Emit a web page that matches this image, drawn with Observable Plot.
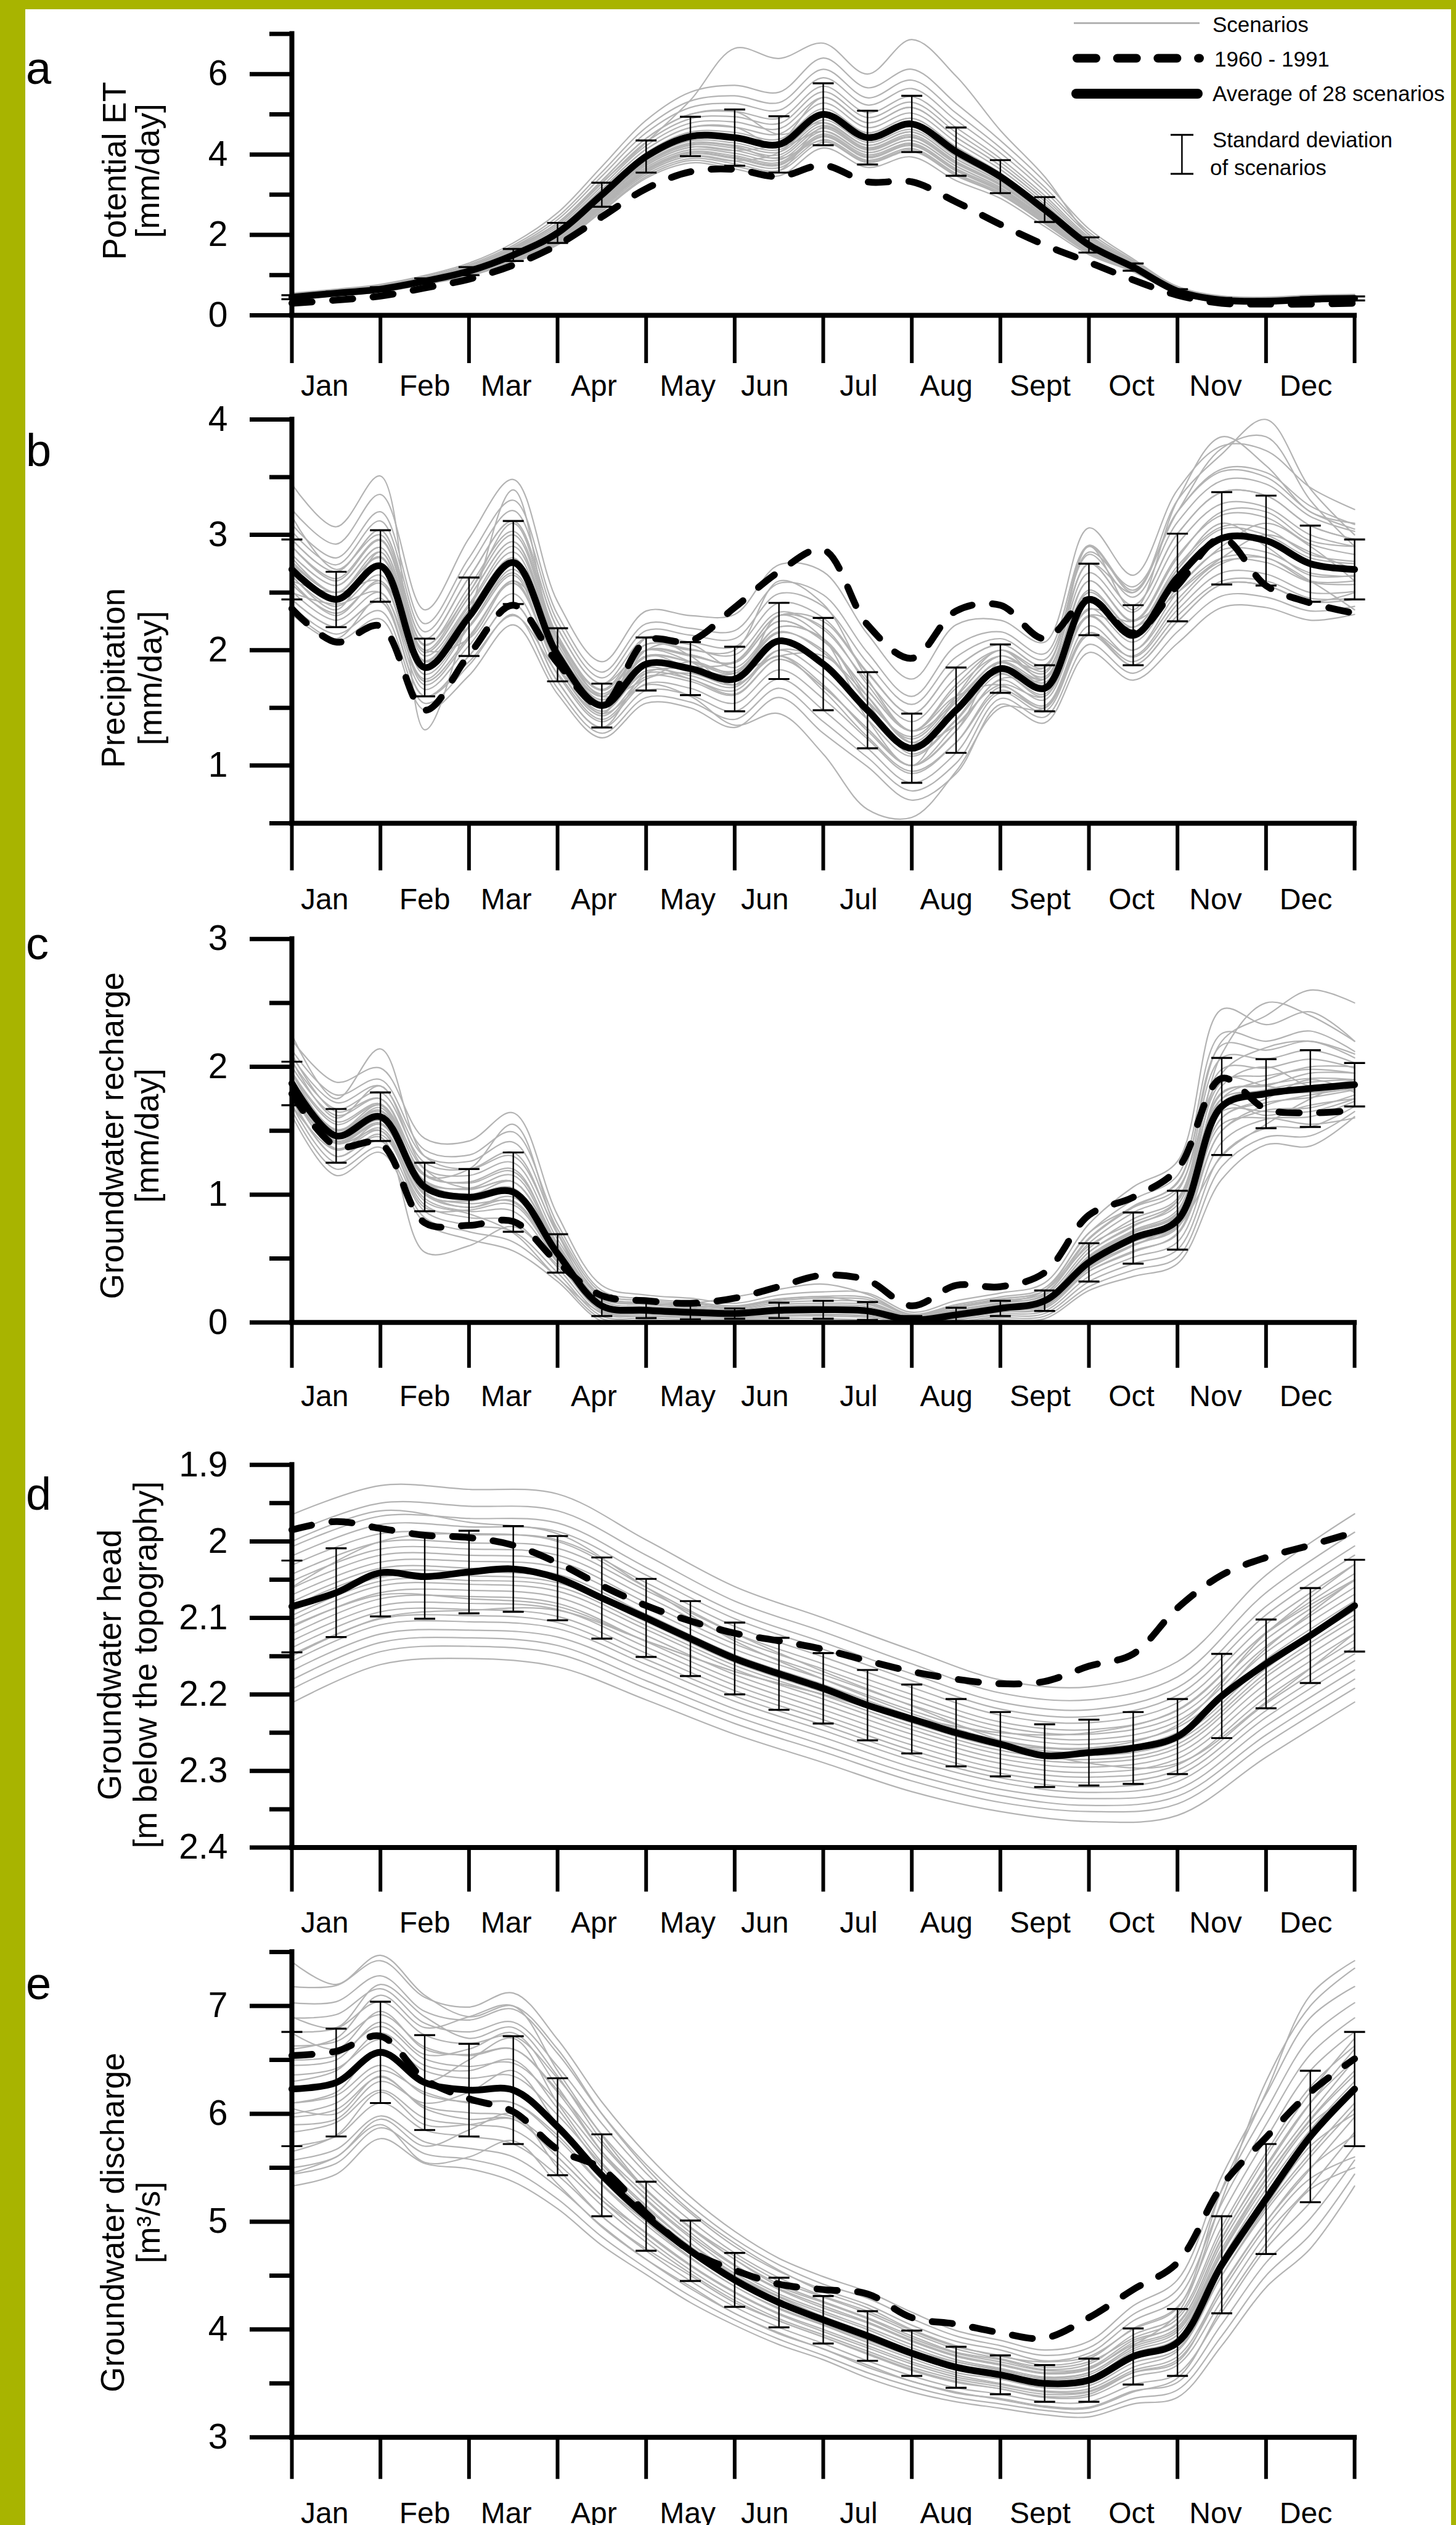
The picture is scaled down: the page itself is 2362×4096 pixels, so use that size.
<!DOCTYPE html>
<html><head><meta charset="utf-8">
<script src="https://cdn.jsdelivr.net/npm/d3@7"></script>
<script src="https://cdn.jsdelivr.net/npm/@observablehq/plot@0.6"></script>
<style>
html,body{margin:0;padding:0;}
body{width:2362px;height:4096px;background:#a8b400;position:relative;overflow:hidden;font-family:"Liberation Sans",Arial,Helvetica,sans-serif;}
#paper{position:absolute;left:41px;top:15px;width:2313px;height:4081px;background:#fff;}
.band{position:absolute;left:0;width:2362px;}
#legend{position:absolute;left:0;top:0;}
</style></head>
<body>
<div id="paper"></div>
<div id="band-a" class="band" style="top:0px"></div>
<div id="band-b" class="band" style="top:600px"></div>
<div id="band-c" class="band" style="top:1450px"></div>
<div id="band-d" class="band" style="top:2300px"></div>
<div id="band-e" class="band" style="top:3090px"></div>
<svg id="legend" width="2362" height="320" font-family="Liberation Sans, Arial, sans-serif" font-size="35">
  <line x1="1742" y1="37.6" x2="1946" y2="37.6" stroke="#b3b3b3" stroke-width="3"/>
  <text x="1967" y="52">Scenarios</text>
  <line x1="1747" y1="94.5" x2="1946" y2="94.5" stroke="#000" stroke-width="14" stroke-linecap="round" stroke-dasharray="31 34.7"/>
  <text x="1970" y="108">1960 - 1991</text>
  <line x1="1746" y1="152" x2="1943" y2="152" stroke="#000" stroke-width="16" stroke-linecap="round"/>
  <text x="1967" y="164">Average of 28 scenarios</text>
  <line x1="1917.4" y1="218.7" x2="1917.4" y2="282" stroke="#000" stroke-width="2.5"/>
  <line x1="1899" y1="218.7" x2="1936" y2="218.7" stroke="#000" stroke-width="3"/>
  <line x1="1899" y1="282" x2="1936" y2="282" stroke="#000" stroke-width="3"/>
  <text x="1967" y="239">Standard deviation</text>
  <text x="1963" y="284">of scenarios</text>
</svg>
<script>
// ---------- shared axis values ----------
const monthLabels = ["Jan","Feb","Mar","Apr","May","Jun","Jul","Aug","Sept","Oct","Nov","Dec"];
const monthEdges = [0,1,2,3,4,5,6,7,8,9,10,11,12];
const labelPositions = [0.37,1.5,2.42,3.41,4.47,5.34,6.4,7.39,8.45,9.48,10.43,11.45];
const halfMonths = [0,0.5,1,1.5,2,2.5,3,3.5,4,4.5,5,5.5,6,6.5,7,7.5,8,8.5,9,9.5,10,10.5,11,11.5,12];
const fullMonths = [0,1,2,3,4,5,6,7,8,9,10,11,12];

// ---------- a: Potential ET ----------
const petMean = [0.45,0.55,0.65,0.85,1.1,1.5,2.05,3.0,3.95,4.45,4.42,4.25,5.0,4.42,4.76,4.07,3.45,2.63,1.75,1.2,0.6,0.38,0.35,0.4,0.42];
const petBase = [0.3,0.38,0.48,0.68,0.9,1.25,1.75,2.45,3.15,3.57,3.63,3.45,3.73,3.32,3.32,2.82,2.26,1.75,1.32,0.88,0.5,0.3,0.28,0.28,0.3];
const petSd = [0.05,0.04,0.05,0.07,0.1,0.15,0.25,0.3,0.4,0.49,0.7,0.7,0.77,0.67,0.7,0.6,0.41,0.31,0.19,0.09,0.05,0.05,0.05,0.05,0.05];
const petScen = [
[.39,.49,.58,.77,.98,1.32,1.75,2.58,3.41,3.79,3.64,3.47,4.16,3.68,3.94,3.35,2.91,2.21,1.51,1.08,.53,.32,.29,.34,.36],
[.4,.5,.59,.78,1.0,1.35,1.8,2.65,3.5,3.9,3.77,3.6,4.3,3.8,4.08,3.47,3.0,2.28,1.55,1.1,.54,.33,.3,.35,.37],
[.41,.51,.6,.79,1.01,1.37,1.83,2.69,3.55,3.96,3.84,3.67,4.37,3.86,4.15,3.53,3.05,2.32,1.57,1.11,.55,.34,.31,.36,.38],
[.41,.51,.6,.79,1.02,1.38,1.85,2.72,3.59,4.01,3.9,3.73,4.44,3.92,4.22,3.59,3.09,2.35,1.59,1.12,.55,.34,.31,.36,.38],
[.42,.52,.61,.8,1.03,1.4,1.88,2.76,3.64,4.07,3.97,3.8,4.51,3.99,4.28,3.65,3.14,2.39,1.61,1.13,.56,.35,.32,.37,.39],
[.42,.52,.61,.81,1.04,1.41,1.9,2.79,3.68,4.12,4.03,3.86,4.58,4.05,4.35,3.71,3.18,2.42,1.63,1.14,.56,.35,.32,.37,.39],
[.43,.53,.62,.82,1.05,1.43,1.93,2.83,3.73,4.18,4.1,3.93,4.65,4.11,4.42,3.77,3.23,2.46,1.65,1.15,.57,.36,.33,.38,.4],
[.43,.53,.63,.82,1.06,1.44,1.95,2.86,3.77,4.23,4.16,3.99,4.72,4.17,4.49,3.83,3.27,2.49,1.67,1.16,.58,.36,.33,.38,.4],
[.44,.54,.63,.83,1.07,1.46,1.98,2.9,3.82,4.29,4.23,4.06,4.79,4.23,4.56,3.89,3.32,2.53,1.69,1.17,.58,.37,.34,.39,.41],
[.44,.54,.64,.84,1.08,1.47,2.0,2.93,3.86,4.34,4.29,4.12,4.86,4.3,4.62,3.95,3.36,2.56,1.71,1.18,.59,.37,.34,.39,.41],
[.45,.55,.64,.84,1.09,1.49,2.03,2.97,3.91,4.4,4.36,4.19,4.93,4.36,4.69,4.01,3.41,2.6,1.73,1.19,.59,.38,.35,.4,.42],
[.45,.55,.65,.85,1.1,1.5,2.05,3.0,3.95,4.45,4.42,4.25,5.0,4.42,4.76,4.07,3.45,2.63,1.75,1.2,.6,.38,.35,.4,.42],
[.46,.56,.66,.86,1.12,1.53,2.1,3.07,4.04,4.56,4.55,4.38,5.14,4.54,4.9,4.19,3.54,2.7,1.79,1.22,.61,.39,.36,.41,.43],
[.47,.57,.67,.88,1.14,1.56,2.15,3.14,4.13,4.67,4.68,4.51,5.28,4.67,5.03,4.31,3.63,2.77,1.83,1.24,.62,.4,.37,.42,.44],
[.48,.58,.69,.89,1.16,1.59,2.2,3.21,4.22,4.78,4.81,4.64,5.42,4.79,5.17,4.43,3.72,2.84,1.87,1.26,.64,.41,.38,.43,.45],
[.49,.59,.7,.91,1.18,1.62,2.25,3.28,4.31,4.89,4.94,4.77,5.56,4.92,5.3,4.55,3.81,2.91,1.91,1.28,.65,.42,.39,.44,.46],
[.5,.6,.71,.92,1.2,1.65,2.3,3.35,4.4,5.0,5.07,4.9,5.7,5.04,5.44,4.67,3.9,2.98,1.95,1.3,.66,.43,.4,.45,.47],
[.52,.62,.73,.94,1.23,1.7,2.38,3.46,4.54,5.17,5.27,5.1,5.91,5.23,5.64,4.85,4.04,3.09,2.01,1.33,.68,.45,.42,.47,.49],
[.53,.63,.75,.96,1.26,1.74,2.45,3.56,4.67,5.33,5.46,5.29,6.12,5.41,5.85,5.03,4.17,3.19,2.07,1.36,.7,.46,.43,.48,.5],
[.55,.65,.77,.99,1.3,1.8,2.55,3.7,4.85,5.55,5.72,5.55,6.4,5.66,6.12,5.27,4.35,3.33,2.15,1.4,.72,.48,.45,.5,.52],
[.5,.6,.72,.93,1.22,1.68,2.3,3.3,4.3,5.35,6.64,6.39,6.77,6.0,6.86,5.95,4.6,3.45,2.0,1.3,.66,.44,.41,.46,.48],
[.41,.51,.6,.79,1.01,1.37,1.83,2.69,3.55,3.96,3.84,4.05,5.0,4.54,4.9,4.19,3.54,2.7,1.79,1.22,.61,.39,.36,.41,.43],
[.47,.57,.67,.88,1.14,1.56,2.15,3.14,4.13,4.67,4.68,4.2,4.58,4.05,4.35,3.71,3.18,2.42,1.63,1.14,.56,.35,.32,.37,.39],
[.43,.53,.62,.82,1.05,1.43,1.93,2.83,3.73,4.18,4.1,4.3,5.42,4.79,5.17,4.43,3.72,2.84,1.87,1.26,.64,.41,.38,.43,.45],
[.5,.6,.71,.92,1.2,1.65,2.3,3.35,4.4,5.0,5.07,4.5,4.79,4.23,4.56,3.89,3.32,2.53,1.69,1.17,.58,.37,.34,.39,.41],
[.41,.51,.6,.8,1.02,1.39,1.86,2.74,3.61,4.04,3.93,3.76,4.47,3.95,4.25,3.62,3.11,2.37,1.6,1.12,.55,.34,.31,.36,.38],
[.39,.49,.58,.77,.99,1.33,1.77,2.61,3.45,3.85,3.7,3.6,4.68,4.14,4.45,3.8,3.25,2.47,1.66,1.15,.57,.36,.33,.38,.4],
[.43,.53,.63,.82,1.06,1.45,1.96,2.88,3.8,4.26,4.2,3.9,4.34,3.83,4.11,3.5,3.02,2.3,1.56,1.1,.54,.34,.31,.36,.38]
];

// ---------- b: Precipitation ----------
const precipMean = [2.70,2.44,2.73,1.85,2.29,2.76,1.96,1.52,1.88,1.84,1.75,2.08,1.88,1.48,1.15,1.48,1.84,1.67,2.44,2.13,2.63,2.97,2.95,2.75,2.70];
const precipBase = [2.36,2.07,2.21,1.48,1.96,2.39,1.89,1.52,2.08,2.08,2.37,2.68,2.87,2.22,1.93,2.34,2.39,2.1,2.44,2.15,2.56,2.97,2.56,2.41,2.32];
const precipSd = [0.26,0.24,0.31,0.25,0.34,0.36,0.23,0.19,0.23,0.23,0.28,0.33,0.40,0.33,0.30,0.37,0.21,0.20,0.31,0.26,0.38,0.40,0.39,0.33,0.26];
const precipScen = [
[3.22,2.92,3.35,2.35,2.97,3.48,2.42,1.90,2.34,2.30,2.31,2.74,2.68,2.14,1.75,2.22,2.26,2.07,3.06,2.65,3.39,3.77,3.73,3.41,3.22],
[3.09,2.80,3.20,2.23,2.80,3.30,2.31,1.81,2.23,2.19,2.17,2.58,2.48,1.98,1.6,2.04,2.16,1.97,2.91,2.52,3.2,3.57,3.54,3.25,3.09],
[3.03,2.74,3.12,2.16,2.72,3.21,2.25,1.76,2.17,2.13,2.1,2.49,2.38,1.89,1.53,1.94,2.1,1.92,2.83,2.46,3.11,3.47,3.44,3.16,3.03],
[2.96,2.68,3.04,2.10,2.63,3.12,2.19,1.71,2.11,2.07,2.03,2.41,2.28,1.81,1.45,1.85,2.05,1.87,2.75,2.39,3.01,3.37,3.34,3.08,2.96],
[2.9,2.62,2.96,2.04,2.55,3.03,2.13,1.66,2.05,2.01,1.96,2.33,2.18,1.73,1.38,1.76,2.0,1.82,2.67,2.33,2.92,3.27,3.24,3.0,2.9],
[2.83,2.56,2.89,1.98,2.46,2.94,2.08,1.62,2.0,1.96,1.89,2.25,2.08,1.65,1.3,1.67,1.95,1.77,2.6,2.26,2.82,3.17,3.15,2.92,2.83],
[2.77,2.50,2.81,1.91,2.38,2.85,2.02,1.57,1.94,1.90,1.82,2.16,1.98,1.56,1.23,1.57,1.89,1.72,2.52,2.2,2.73,3.07,3.05,2.83,2.77],
[2.70,2.44,2.73,1.85,2.29,2.76,1.96,1.52,1.88,1.84,1.75,2.08,1.88,1.48,1.15,1.48,1.84,1.67,2.44,2.13,2.63,2.97,2.95,2.75,2.70],
[2.64,2.38,2.65,1.79,2.21,2.67,1.90,1.47,1.82,1.78,1.68,2.0,1.78,1.40,1.08,1.39,1.79,1.62,2.36,2.07,2.54,2.87,2.85,2.67,2.64],
[2.57,2.32,2.58,1.73,2.12,2.58,1.85,1.43,1.77,1.73,1.61,1.92,1.68,1.32,1.0,1.3,1.74,1.57,2.29,2.0,2.44,2.77,2.76,2.59,2.57],
[2.51,2.26,2.5,1.66,2.04,2.49,1.79,1.38,1.71,1.67,1.54,1.83,1.58,1.23,0.93,1.2,1.68,1.52,2.21,1.94,2.35,2.67,2.66,2.5,2.51],
[2.44,2.20,2.42,1.60,1.95,2.40,1.73,1.33,1.65,1.61,1.47,1.75,1.48,1.15,0.85,1.11,1.63,1.47,2.13,1.87,2.25,2.57,2.56,2.42,2.44],
[2.38,2.14,2.34,1.54,1.87,2.31,1.67,1.28,1.59,1.55,1.4,1.67,1.38,1.07,0.78,1.02,1.58,1.42,2.05,1.8,2.16,2.47,2.46,2.34,2.38],
[2.31,2.08,2.27,1.48,1.78,2.22,1.62,1.24,1.54,1.50,1.33,1.59,1.28,0.99,0.7,0.93,1.53,1.37,1.98,1.74,2.06,2.37,2.37,2.26,2.31],
[3.44,3.07,3.51,1.31,2.3,3.39,2.0,1.45,2.1,1.95,1.7,2.3,2.1,1.4,1.0,1.6,2.0,1.75,2.9,2.35,3.3,3.85,3.6,3.2,3.1],
[2.6,2.3,2.6,1.7,2.1,2.6,1.85,1.45,1.7,1.6,1.35,1.45,1.1,0.62,0.55,0.95,1.5,1.5,2.15,1.95,2.4,2.75,2.8,2.6,2.6],
[2.8,2.5,2.85,1.95,2.4,2.9,2.05,1.6,1.95,1.9,1.8,2.15,2.0,1.55,1.25,1.6,1.95,1.8,2.75,2.5,3.3,3.7,4.0,3.4,3.0],
[2.9,2.6,2.95,2.0,2.5,3.0,2.1,1.65,2.0,1.95,1.9,2.3,2.2,1.7,1.3,1.7,2.0,1.85,2.85,2.55,3.2,3.75,3.85,3.3,2.9],
[2.75,2.5,2.8,1.9,2.35,2.8,2.0,1.6,2.05,2.0,2.0,2.6,2.4,1.75,1.3,1.55,1.9,1.75,2.5,2.2,2.7,3.05,3.0,2.8,2.75],
[2.96,2.68,3.04,2.10,2.63,3.12,2.19,1.71,2.0,1.9,1.7,1.95,1.65,1.25,0.95,1.2,1.65,1.5,2.15,1.9,2.3,2.6,2.6,2.45,2.45],
[2.44,2.20,2.42,1.60,1.95,2.40,1.73,1.33,1.8,1.85,1.9,2.3,2.25,1.8,1.45,1.85,2.05,1.87,2.75,2.39,3.01,3.37,3.34,3.08,2.96],
[2.83,2.56,2.89,1.98,2.46,2.94,2.0,1.5,1.8,1.75,1.62,1.92,1.68,1.32,1.0,1.3,1.9,1.85,2.9,2.5,3.2,3.55,3.5,3.2,3.05],
[2.57,2.32,2.58,1.73,2.12,2.58,1.9,1.55,2.0,1.96,1.89,2.25,2.08,1.65,1.3,1.6,1.7,1.5,2.15,1.87,2.25,2.57,2.56,2.42,2.5],
[2.6,2.5,2.6,2.0,2.1,2.6,2.1,1.6,1.75,1.9,1.8,1.95,1.95,1.6,1.2,1.35,1.75,1.75,2.3,2.2,2.5,2.8,3.0,2.85,2.7],
[2.35,2.1,2.45,1.6,1.9,2.3,1.8,1.4,1.75,1.8,1.7,1.95,1.7,1.3,1.0,1.35,1.7,1.6,2.3,2.0,2.5,2.8,2.8,2.6,2.35],
[3.16,2.7,3.0,2.05,2.5,3.1,2.1,1.55,1.95,1.85,1.8,2.2,2.1,1.6,1.2,1.55,1.9,1.7,2.6,2.25,2.8,3.2,3.2,2.95,2.9],
[2.5,2.4,2.5,1.75,2.2,2.7,1.95,1.45,2.0,2.05,1.85,2.2,2.1,1.55,1.1,1.4,1.85,1.75,2.35,2.25,2.55,2.9,3.1,2.9,2.6],
[2.65,2.35,2.85,1.9,2.2,2.65,1.85,1.55,1.85,1.75,1.65,2.0,1.9,1.45,1.15,1.5,1.8,1.6,2.45,2.1,2.7,3.1,2.9,2.65,2.65]
];

// ---------- c: Groundwater recharge ----------
const rechargeMean = [1.87,1.46,1.61,1.06,0.98,1.02,0.54,0.13,0.095,0.08,0.07,0.095,0.10,0.09,0.02,0.06,0.11,0.17,0.47,0.66,0.80,1.69,1.79,1.83,1.86];
const rechargeBase = [1.79,1.38,1.40,0.78,0.76,0.79,0.47,0.21,0.17,0.15,0.19,0.28,0.37,0.33,0.13,0.29,0.28,0.39,0.84,0.98,1.20,1.91,1.67,1.64,1.66];
const rechargeSd = [0.17,0.21,0.19,0.19,0.22,0.31,0.15,0.08,0.06,0.055,0.04,0.06,0.07,0.07,0.03,0.055,0.06,0.08,0.15,0.20,0.23,0.38,0.27,0.30,0.17];
const rechargeScen = [
[2.04,1.67,1.80,1.25,1.20,1.33,0.69,0.21,0.155,0.135,0.11,0.155,0.17,0.16,0.05,0.115,0.17,0.23,0.62,0.86,1.03,2.07,2.06,2.13,2.03],
[1.70,1.25,1.42,0.87,0.76,0.71,0.39,0.05,0.035,0.025,0.03,0.035,0.03,0.02,0,0.005,0.05,0.07,0.32,0.46,0.57,1.31,1.52,1.53,1.69],
[1.96,1.57,1.71,1.16,1.09,1.18,0.62,0.17,0.125,0.11,0.09,0.125,0.135,0.125,0.035,0.09,0.14,0.19,0.55,0.76,0.92,1.88,1.93,1.98,1.95],
[1.79,1.36,1.52,0.97,0.87,0.87,0.47,0.09,0.065,0.05,0.05,0.065,0.065,0.055,0.005,0.03,0.08,0.11,0.40,0.56,0.69,1.50,1.66,1.68,1.78],
[2.13,1.78,1.90,1.35,1.31,1.49,0.77,0.25,0.185,0.16,0.13,0.185,0.205,0.195,0.065,0.14,0.2,0.27,0.70,0.96,1.15,2.26,2.2,2.28,2.12],
[1.62,1.15,1.33,0.78,0.65,0.56,0.32,0.01,0.005,0,0.01,0.005,0,0,0,0,0.02,0.03,0.25,0.36,0.46,1.12,1.39,1.38,1.61],
[2.21,1.88,1.99,1.44,1.42,1.64,0.84,0.29,0.215,0.19,0.15,0.215,0.24,0.23,0.08,0.17,0.23,0.31,0.77,1.06,1.26,2.45,2.33,2.43,2.2],
[1.91,1.51,1.66,1.11,1.04,1.10,0.58,0.15,0.11,0.095,0.08,0.11,0.12,0.11,0.03,0.075,0.125,0.17,0.51,0.71,0.86,1.79,1.86,1.91,1.9],
[1.83,1.41,1.56,1.01,0.93,0.94,0.50,0.11,0.08,0.065,0.06,0.08,0.085,0.07,0.01,0.045,0.095,0.13,0.43,0.61,0.74,1.6,1.72,1.76,1.82],
[2.0,1.62,1.75,1.2,1.15,1.25,0.65,0.19,0.14,0.12,0.1,0.14,0.15,0.14,0.04,0.1,0.155,0.21,0.58,0.81,0.97,1.98,1.99,2.06,1.99],
[1.74,1.3,1.47,0.92,0.82,0.79,0.43,0.07,0.05,0.04,0.04,0.05,0.05,0.04,0,0.02,0.065,0.09,0.36,0.51,0.63,1.41,1.59,1.61,1.73],
[2.08,1.72,1.85,1.3,1.26,1.41,0.73,0.23,0.17,0.15,0.12,0.17,0.19,0.18,0.06,0.13,0.185,0.25,0.66,0.91,1.09,2.17,2.13,2.2,2.07],
[1.66,1.2,1.37,0.82,0.71,0.63,0.35,0.03,0.02,0.01,0.02,0.02,0.01,0,0,0,0.035,0.05,0.28,0.41,0.51,1.22,1.45,1.46,1.65],
[2.25,1.75,2.14,1.3,1.2,1.3,0.7,0.2,0.15,0.13,0.12,0.18,0.2,0.15,0.05,0.1,0.15,0.22,0.65,0.9,1.1,2.2,2.4,2.6,2.5],
[1.75,1.3,1.45,0.55,0.6,0.75,0.45,0.12,0.08,0.06,0.05,0.07,0.08,0.07,0.02,0.05,0.1,0.13,0.4,0.55,0.7,1.55,1.6,1.55,1.6],
[1.85,1.45,1.6,1.0,0.95,1.0,0.55,0.18,0.15,0.15,0.2,0.26,0.3,0.22,0.06,0.12,0.18,0.25,0.6,0.78,0.95,1.75,1.8,1.8,1.85],
[1.95,1.55,1.7,1.1,1.05,1.15,0.6,0.15,0.1,0.09,0.08,0.1,0.11,0.1,0.03,0.07,0.12,0.17,0.55,0.75,0.95,2.1,2.5,2.4,2.2],
[1.8,1.4,1.55,1.05,1.0,1.05,0.55,0.12,0.09,0.08,0.07,0.09,0.1,0.09,0.02,0.06,0.1,0.14,0.42,0.6,0.75,1.3,1.55,1.75,1.9],
[1.9,1.5,1.65,1.15,1.2,1.55,0.7,0.15,0.1,0.08,0.07,0.09,0.1,0.09,0.02,0.06,0.1,0.15,0.5,0.7,0.85,1.8,1.85,1.95,1.95],
[1.8,1.35,1.5,0.95,0.85,0.7,0.35,0.08,0.05,0.04,0.04,0.05,0.06,0.05,0.01,0.04,0.08,0.12,0.45,0.6,0.8,1.65,1.65,1.65,1.75],
[1.85,1.45,1.6,1.05,0.97,1.0,0.52,0.12,0.09,0.08,0.07,0.09,0.1,0.09,0.02,0.07,0.15,0.25,0.7,0.9,1.05,1.9,1.85,1.8,1.85],
[2.05,1.6,1.85,1.2,1.05,1.1,0.6,0.14,0.1,0.09,0.08,0.1,0.11,0.1,0.03,0.06,0.12,0.16,0.5,0.66,0.82,1.75,1.9,2.0,2.0],
[1.7,1.35,1.55,1.0,0.9,0.95,0.5,0.1,0.08,0.07,0.06,0.08,0.09,0.08,0.01,0.05,0.1,0.14,0.48,0.65,0.78,1.6,1.75,1.9,1.8],
[1.95,1.5,1.7,1.1,1.0,1.1,0.58,0.13,0.1,0.08,0.07,0.09,0.1,0.09,0.02,0.06,0.11,0.15,0.46,0.64,0.78,1.85,2.0,1.85,1.9],
[1.88,1.42,1.58,1.02,0.9,0.98,0.5,0.1,0.07,0.06,0.05,0.07,0.08,0.07,0.01,0.05,0.1,0.13,0.44,0.63,0.76,1.5,1.7,1.78,1.83],
[2.1,1.65,1.75,1.15,1.1,1.2,0.6,0.14,0.1,0.09,0.08,0.1,0.11,0.1,0.03,0.07,0.12,0.17,0.52,0.72,0.88,1.95,2.15,2.2,2.1],
[1.78,1.4,1.5,0.9,0.88,0.92,0.48,0.11,0.08,0.07,0.06,0.08,0.09,0.08,0.02,0.05,0.11,0.16,0.5,0.7,0.84,1.7,1.62,1.7,1.75],
[1.92,1.48,1.68,1.08,1.0,1.05,0.56,0.13,0.1,0.08,0.07,0.09,0.1,0.09,0.02,0.06,0.11,0.15,0.48,0.67,0.82,1.72,1.82,1.88,1.9]
];

// ---------- d: Groundwater head (scenarios given monthly) ----------
const headMean = [2.085,2.067,2.041,2.046,2.04,2.036,2.048,2.074,2.10,2.127,2.153,2.173,2.192,2.214,2.232,2.25,2.265,2.28,2.276,2.27,2.255,2.202,2.16,2.123,2.084];
const headBase = [1.985,1.974,1.983,1.992,1.995,2.005,2.028,2.058,2.084,2.104,2.12,2.13,2.141,2.156,2.17,2.18,2.186,2.183,2.163,2.147,2.087,2.044,2.021,2.005,1.988];
const headSd = [0.06,0.058,0.057,0.055,0.054,0.056,0.055,0.053,0.051,0.049,0.047,0.047,0.046,0.046,0.045,0.044,0.042,0.041,0.043,0.047,0.049,0.055,0.058,0.062,0.06];
const headScen = [
[1.965,1.927,1.932,1.938,1.998,2.059,2.1,2.142,2.181,2.19,2.157,2.044,1.964],
[1.989,1.95,1.954,1.96,2.018,2.078,2.118,2.16,2.198,2.207,2.177,2.067,1.988],
[2.007,1.967,1.97,1.976,2.034,2.092,2.132,2.173,2.21,2.22,2.191,2.085,2.006],
[2.019,1.978,1.981,1.987,2.044,2.101,2.141,2.182,2.219,2.229,2.201,2.096,2.018],
[2.031,1.99,1.991,1.998,2.054,2.111,2.151,2.191,2.227,2.237,2.211,2.108,2.03],
[2.043,2.001,2.002,2.009,2.064,2.12,2.16,2.2,2.236,2.246,2.221,2.119,2.042],
[2.052,2.01,2.01,2.018,2.072,2.127,2.167,2.207,2.242,2.252,2.228,2.128,2.051],
[2.061,2.018,2.018,2.026,2.08,2.134,2.174,2.214,2.248,2.259,2.235,2.137,2.06],
[2.07,2.027,2.026,2.034,2.087,2.141,2.18,2.221,2.254,2.265,2.243,2.145,2.069],
[2.079,2.035,2.035,2.043,2.095,2.148,2.187,2.228,2.261,2.272,2.25,2.154,2.078],
[2.085,2.041,2.04,2.048,2.10,2.153,2.192,2.232,2.265,2.276,2.255,2.16,2.084],
[2.091,2.047,2.045,2.054,2.105,2.158,2.197,2.237,2.269,2.28,2.26,2.166,2.09],
[2.097,2.052,2.051,2.059,2.11,2.162,2.201,2.241,2.273,2.285,2.265,2.172,2.096],
[2.103,2.058,2.056,2.065,2.115,2.167,2.206,2.246,2.278,2.289,2.27,2.177,2.102],
[2.112,2.067,2.064,2.073,2.123,2.174,2.213,2.252,2.284,2.295,2.277,2.186,2.111],
[2.121,2.075,2.072,2.081,2.131,2.181,2.22,2.259,2.29,2.302,2.284,2.195,2.12],
[2.13,2.084,2.081,2.089,2.138,2.188,2.227,2.266,2.297,2.308,2.292,2.204,2.129],
[2.139,2.092,2.089,2.098,2.146,2.195,2.233,2.273,2.303,2.315,2.299,2.212,2.138],
[2.148,2.101,2.097,2.106,2.154,2.202,2.24,2.279,2.309,2.321,2.306,2.221,2.147],
[2.157,2.109,2.105,2.114,2.161,2.209,2.247,2.286,2.315,2.328,2.314,2.23,2.156],
[2.169,2.121,2.116,2.125,2.171,2.219,2.256,2.295,2.324,2.336,2.324,2.241,2.168],
[2.181,2.132,2.126,2.136,2.182,2.228,2.266,2.304,2.332,2.345,2.333,2.253,2.18],
[2.193,2.144,2.137,2.147,2.192,2.238,2.275,2.313,2.341,2.353,2.343,2.264,2.192],
[2.211,2.161,2.153,2.164,2.207,2.252,2.289,2.327,2.353,2.366,2.358,2.282,2.21],
[2.0,1.96,1.975,1.99,2.06,2.13,2.18,2.225,2.26,2.27,2.24,2.12,2.03],
[2.15,2.1,2.09,2.09,2.13,2.17,2.2,2.235,2.265,2.27,2.25,2.14,2.05],
[2.06,2.0,1.99,2.0,2.06,2.12,2.17,2.215,2.26,2.29,2.29,2.21,2.12],
[2.11,2.07,2.075,2.085,2.13,2.17,2.2,2.23,2.25,2.25,2.22,2.12,2.05]
];

// ---------- e: Groundwater discharge ----------
const dischargeMean = [6.23,6.29,6.57,6.29,6.22,6.22,5.88,5.43,5.05,4.73,4.46,4.25,4.09,3.94,3.78,3.65,3.58,3.50,3.53,3.75,3.88,4.60,5.21,5.79,6.23];
const dischargeBase = [6.54,6.58,6.72,6.32,6.14,6.02,5.67,5.49,5.08,4.73,4.55,4.42,4.37,4.33,4.11,4.05,3.97,3.92,4.11,4.37,4.62,5.33,5.78,6.2,6.51];
const dischargeSd = [0.53,0.50,0.47,0.44,0.43,0.50,0.45,0.38,0.32,0.28,0.25,0.23,0.22,0.23,0.21,0.19,0.18,0.17,0.20,0.26,0.31,0.45,0.51,0.61,0.53];
const dischargeScen = [
[6.76,6.79,7.04,6.73,6.65,6.72,6.33,5.81,5.37,5.01,4.71,4.48,4.31,4.17,3.99,3.84,3.76,3.67,3.73,4.01,4.21,5.06,5.77,6.4,6.76],
[5.7,5.79,6.1,5.85,5.79,5.72,5.43,5.05,4.73,4.45,4.21,4.02,3.87,3.71,3.57,3.46,3.4,3.33,3.33,3.49,3.59,4.16,4.75,5.18,5.7],
[6.5,6.54,6.81,6.51,6.44,6.47,6.11,5.62,5.21,4.87,4.59,4.37,4.2,4.06,3.89,3.75,3.67,3.59,3.63,3.88,4.06,4.84,5.52,6.1,6.5],
[5.97,6.04,6.34,6.07,6.01,5.97,5.66,5.24,4.89,4.59,4.34,4.14,3.98,3.83,3.68,3.56,3.49,3.42,3.43,3.62,3.75,4.39,5.0,5.49,5.97],
[7.03,7.04,7.28,6.95,6.87,6.97,6.56,6.0,5.53,5.15,4.84,4.6,4.42,4.29,4.1,3.94,3.85,3.76,3.83,4.14,4.37,5.29,6.03,6.71,7.03],
[5.44,5.54,5.87,5.63,5.58,5.47,5.21,4.86,4.57,4.31,4.09,3.91,3.76,3.6,3.47,3.37,3.31,3.25,3.23,3.36,3.44,3.94,4.5,4.88,5.44],
[6.36,6.42,6.69,6.4,6.33,6.35,5.99,5.53,5.13,4.8,4.52,4.31,4.15,4.0,3.83,3.7,3.63,3.54,3.58,3.82,3.98,4.72,5.39,5.94,6.36],
[6.1,6.17,6.45,6.18,6.11,6.1,5.77,5.34,4.97,4.66,4.4,4.19,4.04,3.88,3.73,3.6,3.54,3.46,3.48,3.69,3.82,4.5,5.13,5.64,6.1],
[6.63,6.67,6.92,6.62,6.54,6.6,6.22,5.72,5.29,4.94,4.65,4.42,4.26,4.11,3.94,3.79,3.72,3.63,3.68,3.95,4.13,4.95,5.64,6.25,6.63],
[5.83,5.92,6.22,5.96,5.9,5.85,5.54,5.15,4.81,4.52,4.27,4.08,3.93,3.77,3.62,3.51,3.45,3.37,3.38,3.56,3.67,4.27,4.88,5.33,5.83],
[6.89,6.92,7.16,6.84,6.76,6.85,6.44,5.91,5.45,5.08,4.77,4.54,4.37,4.23,4.04,3.89,3.81,3.71,3.78,4.08,4.29,5.17,5.9,6.55,6.89],
[5.57,5.67,5.98,5.74,5.68,5.6,5.32,4.96,4.65,4.38,4.15,3.96,3.82,3.65,3.52,3.41,3.36,3.29,3.28,3.43,3.51,4.05,4.62,5.03,5.57],
[6.23,6.29,6.57,6.29,6.22,6.22,5.88,5.43,5.05,4.73,4.46,4.25,4.09,3.94,3.78,3.65,3.58,3.50,3.53,3.75,3.90,4.61,5.26,5.79,6.23],
[7.18,7.19,7.42,7.08,6.99,7.12,6.69,6.11,5.63,5.23,4.91,4.66,4.49,4.35,4.16,3.99,3.9,3.81,3.89,4.22,4.46,5.42,6.18,6.89,7.18],
[5.33,5.44,5.77,5.54,5.49,5.37,5.12,4.78,4.51,4.25,4.04,3.86,3.72,3.55,3.42,3.33,3.27,3.21,3.19,3.31,3.37,3.85,4.39,4.75,5.33],
[7.41,7.2,7.47,7.1,6.9,7.0,6.6,6.0,5.5,5.1,4.8,4.55,4.35,4.2,4.0,3.85,3.75,3.7,3.75,4.0,4.2,5.3,6.2,7.1,7.42],
[6.0,6.1,6.4,6.2,6.1,6.1,5.8,5.35,5.0,4.7,4.45,4.25,4.1,3.95,3.8,3.7,3.62,3.55,3.6,3.85,4.15,5.2,6.3,7.0,7.35],
[6.6,6.7,7.1,6.8,6.9,7.0,6.4,5.8,5.3,4.95,4.65,4.4,4.25,4.1,3.92,3.78,3.7,3.62,3.65,3.9,4.05,4.85,5.5,6.1,6.6],
[6.1,6.2,6.6,6.3,6.5,6.7,6.1,5.55,5.15,4.8,4.5,4.3,4.12,3.97,3.8,3.67,3.6,3.52,3.55,3.8,3.95,4.7,5.35,5.9,6.2],
[5.5,5.6,5.95,5.7,5.85,6.0,5.5,5.05,4.75,4.5,4.25,4.08,3.93,3.78,3.63,3.52,3.45,3.38,3.4,3.6,3.72,4.35,4.95,5.4,5.6],
[5.45,5.6,5.9,5.55,5.6,5.75,5.35,4.95,4.65,4.4,4.15,3.97,3.82,3.67,3.52,3.42,3.35,3.28,3.27,3.42,3.55,4.2,4.8,5.3,5.5],
[6.9,6.8,7.2,6.9,6.7,6.8,6.35,5.75,5.3,4.95,4.68,4.45,4.3,4.15,3.97,3.82,3.73,3.65,3.7,3.92,4.1,4.9,5.6,6.2,6.7],
[5.9,5.95,6.3,6.1,6.2,6.4,5.9,5.4,5.0,4.67,4.4,4.2,4.05,3.9,3.75,3.63,3.56,3.48,3.5,3.72,3.88,4.55,5.15,5.7,6.0],
[6.3,6.4,6.75,6.45,6.4,6.5,6.05,5.5,5.1,4.77,4.5,4.28,4.12,3.97,3.81,3.68,3.6,3.52,3.55,3.78,3.92,4.65,5.3,5.85,6.3],
[5.65,5.8,6.2,5.9,5.9,5.95,5.6,5.2,4.85,4.55,4.3,4.1,3.95,3.8,3.65,3.54,3.47,3.4,3.42,3.6,3.7,4.4,5.0,5.5,5.8],
[6.45,6.5,6.85,6.55,6.6,6.75,6.25,5.65,5.2,4.85,4.55,4.33,4.17,4.02,3.86,3.72,3.64,3.56,3.6,3.84,4.0,4.75,5.4,5.95,6.4],
[6.05,6.0,6.35,6.05,5.95,5.95,5.6,5.2,4.9,4.6,4.35,4.15,4.0,3.85,3.7,3.58,3.5,3.43,3.45,3.65,3.8,4.5,5.1,5.6,6.05],
[6.75,6.6,6.95,6.6,6.55,6.6,6.2,5.65,5.25,4.9,4.6,4.38,4.22,4.07,3.9,3.76,3.68,3.6,3.64,3.86,4.02,4.8,5.45,6.0,6.5]
];

// ---------- y-axis ticks ----------
const petMajor = [0,2,4,6], petMinor = [1,3,5,7];
const precipMajor = [1,2,3,4], precipMinor = [0.5,1.5,2.5,3.5];
const rechargeMajor = [0,1,2,3], rechargeMinor = [0.5,1.5,2.5];
const headMajor = [1.9,2,2.1,2.2,2.3,2.4], headMinor = [1.95,2.05,2.15,2.25,2.35];
const dischargeMajor = [3,4,5,6,7], dischargeMinor = [3.5,4.5,5.5,6.5,7.5];

// ---------- layout ----------
const W = 2362, ML = 473, MR = 165;
const FONT = '"Liberation Sans", Arial, Helvetica, sans-serif';
const cap = {draw(ctx, size) { const w = Math.sqrt(size / Math.PI); ctx.moveTo(-w, 0); ctx.lineTo(w, 0); }};

const panels = [
  {id:"band-a", letter:"a", t1:"Potential ET", t2:"[mm/day]", height:700, mt:54.5, mb:189, domain:[0,7], bottom:0,
   major:petMajor, minor:petMinor, xTick:78, pad:96.6, dx1:-286, dx2:-232, tdy:-6, ldy:80.5,
   mean:petMean, base:petBase, sd:petSd, scen:petScen, scenX:halfMonths},
  {id:"band-b", letter:"b", t1:"Precipitation", t2:"[mm/day]", height:900, mt:80, mb:165.1, domain:[0.5,4], bottom:0.5,
   major:precipMajor, minor:precipMinor, xTick:77, pad:105.7, dx1:-288, dx2:-228, tdy:92, ldy:75,
   mean:precipMean, base:precipBase, sd:precipSd, scen:precipScen, scenX:halfMonths},
  {id:"band-c", letter:"c", t1:"Groundwater recharge", t2:"[mm/day]", height:860, mt:72.7, mb:165.2, domain:[0,3], bottom:0,
   major:rechargeMajor, minor:rechargeMinor, xTick:74, pad:101.8, dx1:-290, dx2:-233, tdy:8, ldy:33,
   mean:rechargeMean, base:rechargeBase, sd:rechargeSd, scen:rechargeScen, scenX:halfMonths},
  {id:"band-d", letter:"d", t1:"Groundwater head", t2:"[m below the topography]", height:860, mt:75.8, mb:163.5, domain:[2.4,1.9], bottom:2.4,
   major:headMajor, minor:headMinor, xTick:72, pad:104.1, dx1:-294, dx2:-236, tdy:14, ldy:73,
   mean:headMean, base:headBase, sd:headSd, scen:headScen, scenX:fullMonths},
  {id:"band-e", letter:"e", t1:"Groundwater discharge", t2:"[m\u00b3/s]", height:1006, mt:76.1, mb:142.7, domain:[3,7.5], bottom:3,
   major:dischargeMajor, minor:dischargeMinor, xTick:68, pad:105.3, dx1:-289, dx2:-231, tdy:45, ldy:76,
   mean:dischargeMean, base:dischargeBase, sd:dischargeSd, scen:dischargeScen, scenX:halfMonths}
];

for (const p of panels) {
  const rows = halfMonths.map((m, i) => ({m, mean: p.mean[i], base: p.base[i], sd: p.sd[i]}));
  const scenRows = [];
  p.scen.forEach((s, k) => s.forEach((v, i) => scenRows.push({m: p.scenX[i], v, id: k})));
  const chart = Plot.plot({
    width: W, height: p.height,
    marginLeft: ML, marginRight: MR, marginTop: p.mt, marginBottom: p.mb,
    style: {background: "transparent", overflow: "visible", fontFamily: FONT, color: "#000"},
    x: {domain: [0, 12], label: null},
    y: {domain: p.domain, label: null},
    marks: [
      Plot.line(scenRows, {x: "m", y: "v", z: "id", stroke: "#b3b3b3", strokeWidth: 2.2, curve: "catmull-rom"}),
      Plot.line(rows, {x: "m", y: "base", stroke: "#000", strokeWidth: 11, strokeDasharray: "33,33", strokeLinecap: "round", curve: "catmull-rom"}),
      Plot.line(rows, {x: "m", y: "mean", stroke: "#000", strokeWidth: 11, strokeLinecap: "round", strokeLinejoin: "round", curve: "catmull-rom"}),
      Plot.ruleX(rows, {x: "m", y1: d => d.mean - d.sd, y2: d => d.mean + d.sd, stroke: "#000", strokeWidth: 2.4}),
      Plot.dot(rows, {x: "m", y: d => d.mean + d.sd, symbol: cap, r: 17, stroke: "#000", fill: "none", strokeWidth: 3.2}),
      Plot.dot(rows, {x: "m", y: d => d.mean - d.sd, symbol: cap, r: 17, stroke: "#000", fill: "none", strokeWidth: 3.2}),
      Plot.ruleX([0], {stroke: "#000", strokeWidth: 8, strokeLinecap: "square"}),
      Plot.ruleY([p.bottom], {stroke: "#000", strokeWidth: 8, strokeLinecap: "square"}),
      Plot.axisY(p.major, {tickSize: 68, tickPadding: 36, fontSize: 57, strokeWidth: 7, tickFormat: d => String(d), label: null}),
      Plot.axisY(p.minor, {tickSize: 36, strokeWidth: 7, tickFormat: () => "", label: null}),
      Plot.axisX(monthEdges, {tickSize: p.xTick, strokeWidth: 6, tickFormat: () => "", label: null}),
      Plot.axisX(labelPositions, {tickSize: 0, tickPadding: p.pad, fontSize: 48, tickFormat: d => monthLabels[labelPositions.indexOf(d)], label: null}),
      Plot.text([p.t1], {frameAnchor: "left", dx: p.dx1, dy: p.tdy, rotate: -90, fontSize: 53, textAnchor: "middle", lineAnchor: "middle", fill: "#000"}),
      Plot.text([p.t2], {frameAnchor: "left", dx: p.dx2, dy: p.tdy, rotate: -90, fontSize: 53, textAnchor: "middle", lineAnchor: "middle", fill: "#000"}),
      Plot.text([p.letter], {frameAnchor: "top-left", dx: 41.5 - ML, dy: p.ldy, fontSize: 74, textAnchor: "start", lineAnchor: "bottom", fill: "#000"})
    ]
  });
  document.getElementById(p.id).appendChild(chart);
}
</script>
</body></html>
